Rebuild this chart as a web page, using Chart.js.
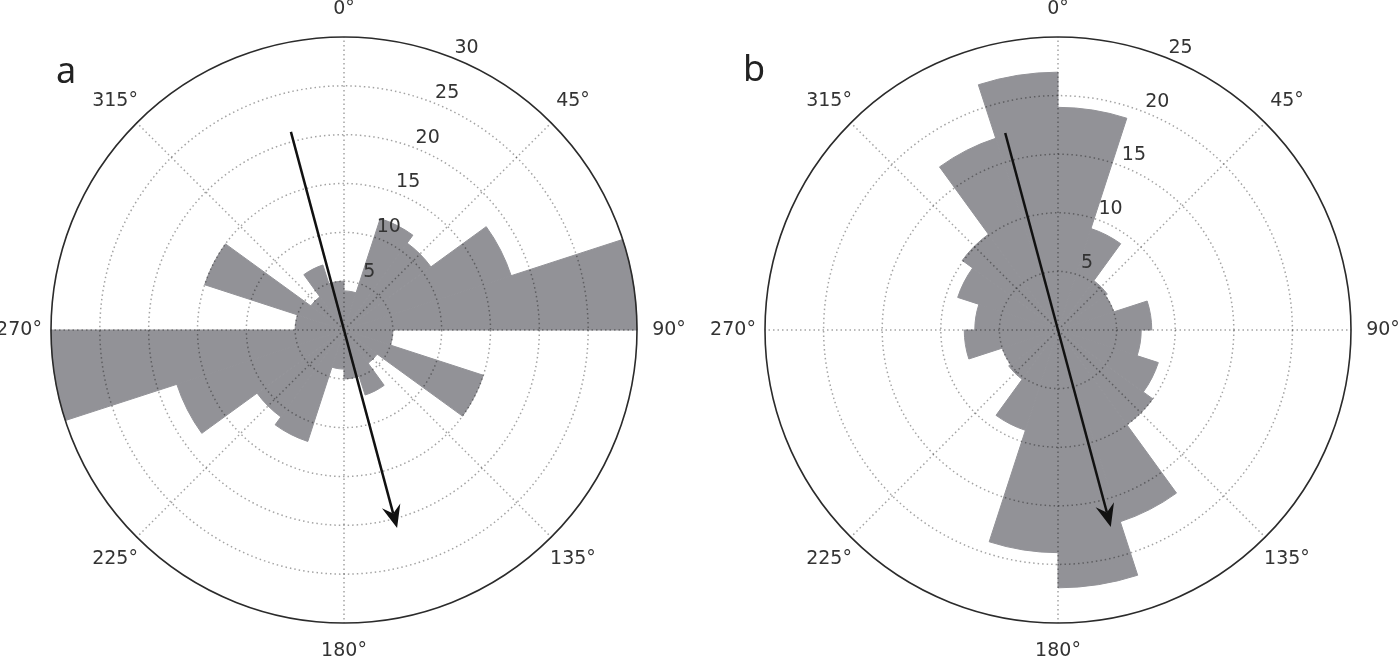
<!DOCTYPE html>
<html>
<head>
<meta charset="utf-8">
<title>Rose diagrams</title>
<style>
  html, body { margin: 0; padding: 0; background: #fff; }
  body { width: 1400px; height: 663px; position: relative; overflow: hidden; }
  .panel { position: absolute; top: 0; width: 700px; height: 663px; }
  .tag { position: absolute; font-family: 'Noto Sans', sans-serif; font-size: 36px; line-height: 1; color: #222; }
</style>
</head>
<body>
<div class="panel" style="left:0"><canvas id="roseA" width="700" height="663"></canvas></div>
<div class="panel" style="left:700px"><canvas id="roseB" width="700" height="663"></canvas></div>
<div class="tag" style="left:56px;top:52px">a</div>
<div class="tag" style="left:743px;top:50px">b</div>

<script src="https://cdn.jsdelivr.net/npm/chart.js@4.4.1/dist/chart.umd.min.js"></script>
<script>
// 18 degree bins, clockwise from north
const binLabels = ['0-18°', '18-36°', '36-54°', '54-72°', '72-90°', '90-108°', '108-126°', '126-144°', '144-162°', '162-180°',
                   '180-198°', '198-216°', '216-234°', '234-252°', '252-270°', '270-288°', '288-306°', '306-324°', '324-342°', '342-360°'];

const countsA = [4.0, 12.0, 11.0, 18.0, 30, 5.0, 15.0, 4.2, 7.0, 5.0,
                 4.0, 12.0, 11.0, 18.0, 30, 5.0, 15.0, 4.2, 7.0, 5.0];
const countsB = [19.0, 9.1, 5.2, 5.0, 8.0, 7.1, 9.0, 10.0, 17.2, 22.0,
                 19.0, 9.0, 5.2, 5.0, 8.0, 7.1, 9.0, 10.1, 17.2, 22.0];

const maxA = 30;
const maxB = 25;
const tickStep = 5;
const angleTicks = [0, 45, 90, 135, 180, 225, 270, 315];

// mean axis: direction of the arrow head (deg) and its length (counts)
const meanDirA = 165, meanLenA = 21;
const meanDirB = 165, meanLenB = 17.4;

const barGrey = 'rgb(146,146,151)';
const dotted = 'rgba(0,0,0,0.36)';
const textCol = '#333';
const labelFont = '19px "DejaVu Sans", sans-serif';

const roseDecor = {
  id: 'roseDecor',
  afterDraw(chart, args, opts) {
    const s = chart.scales.r;
    const ctx = chart.ctx;
    const cx = s.xCenter, cy = s.yCenter;
    const R = s.getDistanceFromCenterForValue(s.max);
    const pt = (deg, d) => {
      const a = deg * Math.PI / 180;
      return [cx + d * Math.sin(a), cy - d * Math.cos(a)];
    };
    ctx.save();

    // spokes every 45 deg
    ctx.strokeStyle = dotted;
    ctx.lineWidth = 1.5;
    ctx.setLineDash([1.5, 3]);
    angleTicks.forEach(deg => {
      const [x, y] = pt(deg, R);
      ctx.beginPath();
      ctx.moveTo(cx, cy);
      ctx.lineTo(x, y);
      ctx.stroke();
    });
    ctx.setLineDash([]);

    // radial tick labels along 22.5 deg
    ctx.font = labelFont;
    ctx.fillStyle = textCol;
    ctx.textAlign = 'center';
    ctx.textBaseline = 'middle';
    s.ticks.forEach(t => {
      if (t.value <= 0) return;
      const [x, y] = pt(23.5, s.getDistanceFromCenterForValue(t.value) + 14.5);
      ctx.fillText(String(t.value), x, y);
    });

    // angle labels
    angleTicks.forEach(deg => {
      const a = deg * Math.PI / 180;
      const [x, y] = pt(deg, R + 28 + 4 * Math.abs(Math.sin(a)));
      ctx.fillText(deg + '°', x, y);
    });

    // mean direction arrow
    const d = s.getDistanceFromCenterForValue(opts.len);
    const [x0, y0] = pt(opts.dir + 180, d);
    const [x1, y1] = pt(opts.dir, d);
    const ux = (x1 - x0) / Math.hypot(x1 - x0, y1 - y0);
    const uy = (y1 - y0) / Math.hypot(x1 - x0, y1 - y0);
    const headLen = 23, halfW = 9.5, notch = 15;
    ctx.strokeStyle = '#111';
    ctx.fillStyle = '#111';
    ctx.lineWidth = 2.5;
    ctx.beginPath();
    ctx.moveTo(x0, y0);
    ctx.lineTo(x1 - ux * notch, y1 - uy * notch);
    ctx.stroke();
    const bx = x1 - ux * headLen, by = y1 - uy * headLen;
    ctx.beginPath();
    ctx.moveTo(x1, y1);
    ctx.lineTo(bx - uy * halfW, by + ux * halfW);
    ctx.lineTo(x1 - ux * notch, y1 - uy * notch);
    ctx.lineTo(bx + uy * halfW, by - ux * halfW);
    ctx.closePath();
    ctx.fill();

    ctx.restore();
  }
};

function makeRose(id, counts, max, pad, dir, len) {
  const isRim = c => c.tick && c.tick.value === max;
  return new Chart(document.getElementById(id), {
    type: 'polarArea',
    data: {
      labels: binLabels,
      datasets: [{
        data: counts,
        backgroundColor: barGrey,
        borderColor: barGrey,
        borderWidth: 1
      }]
    },
    options: {
      responsive: false,
      animation: false,
      layout: { padding: pad },
      plugins: {
        legend: { display: false },
        tooltip: { enabled: false },
        roseDecor: { dir: dir, len: len }
      },
      scales: {
        r: {
          min: 0,
          max: max,
          startAngle: 0,
          ticks: { display: false, stepSize: tickStep },
          pointLabels: { display: false },
          angleLines: { display: false },
          grid: {
            z: 1,
            circular: true,
            color: c => isRim(c) ? '#2b2b2b' : dotted,
            lineWidth: c => isRim(c) ? 1.6 : 1.5
          },
          border: { dash: c => isRim(c) ? [] : [1.5, 3] }
        }
      }
    },
    plugins: [roseDecor]
  });
}

makeRose('roseA', countsA, maxA, { left: 51, right: 62, top: 37, bottom: 39 }, meanDirA, meanLenA);
makeRose('roseB', countsB, maxB, { left: 65, right: 48, top: 37, bottom: 39 }, meanDirB, meanLenB);
</script>
</body>
</html>
